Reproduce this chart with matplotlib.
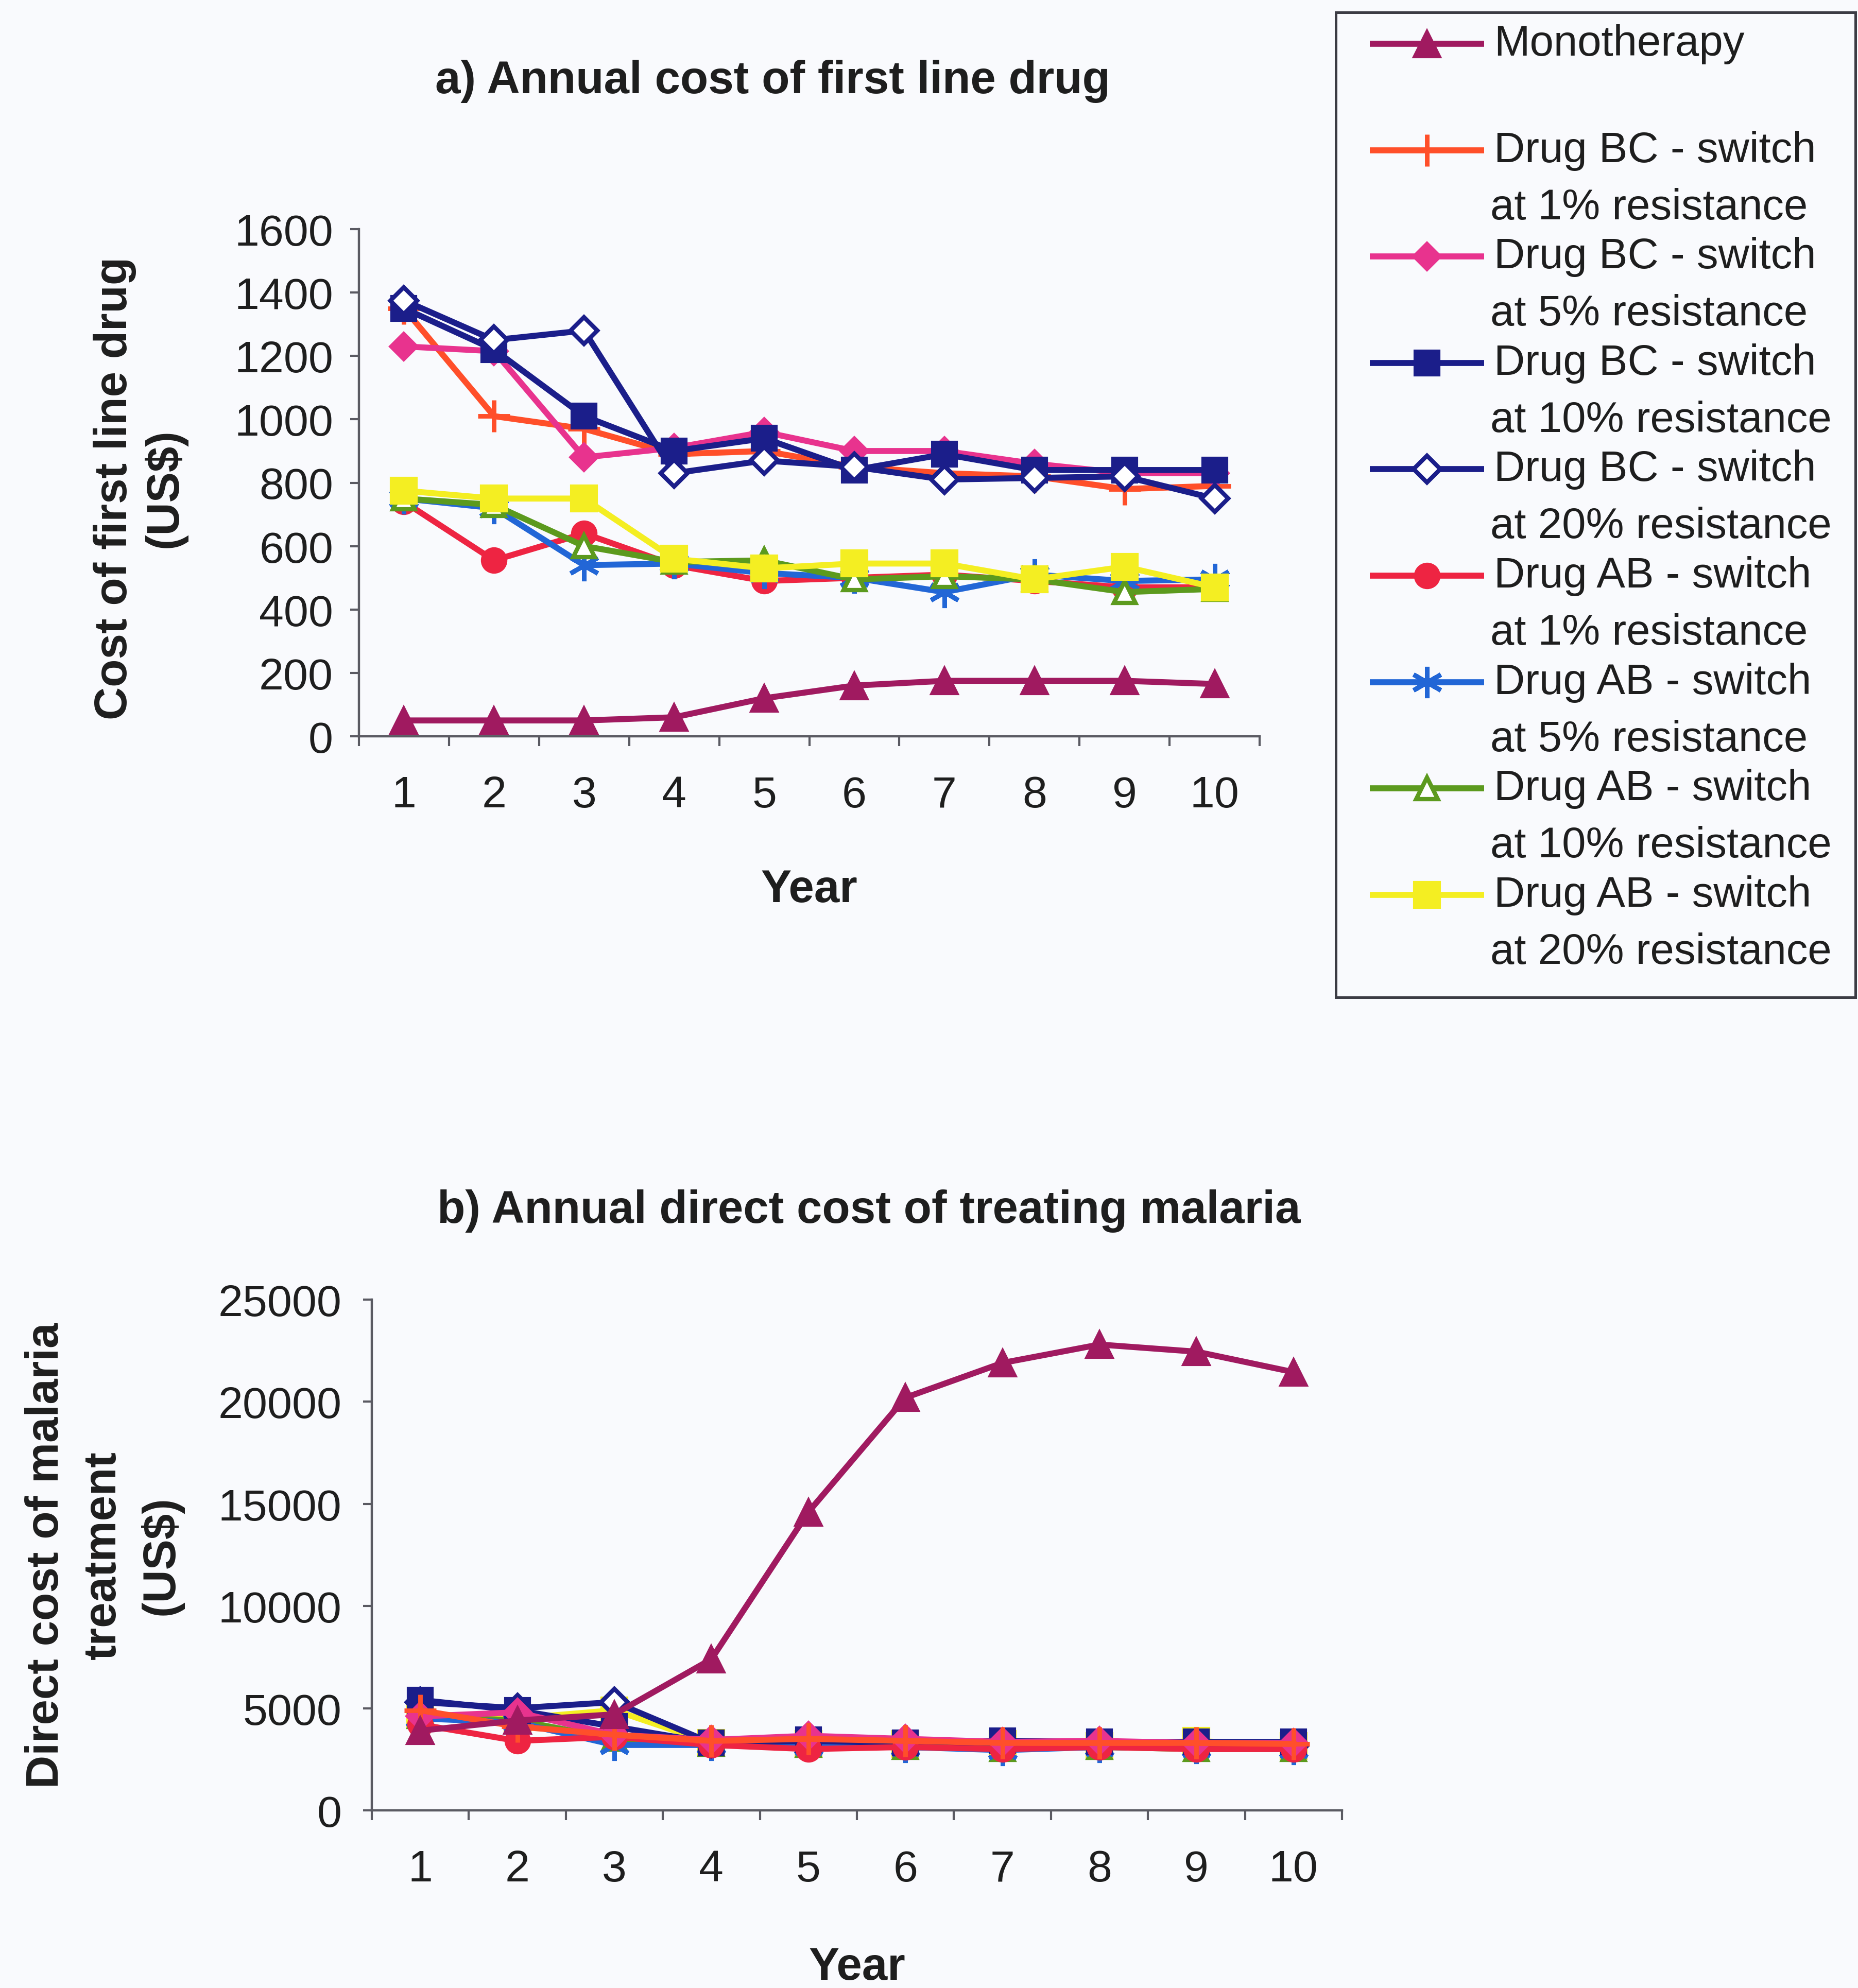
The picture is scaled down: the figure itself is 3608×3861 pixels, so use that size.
import matplotlib.pyplot as plt
import matplotlib.font_manager as fm

# ---- data ----
years = [1, 2, 3, 4, 5, 6, 7, 8, 9, 10]

labels = [
    "Monotherapy",
    "Drug BC - switch\nat 1% resistance",
    "Drug BC - switch\nat 5% resistance",
    "Drug BC - switch\nat 10% resistance",
    "Drug BC - switch\nat 20% resistance",
    "Drug AB - switch\nat 1% resistance",
    "Drug AB - switch\nat 5% resistance",
    "Drug AB - switch\nat 10% resistance",
    "Drug AB - switch\nat 20% resistance",
]

# a) annual cost of first line drug
drug_mono = [50, 50, 50, 60, 120, 160, 175, 175, 175, 165]
drug_bc1 = [1350, 1010, 970, 890, 900, 850, 830, 820, 780, 790]
drug_bc5 = [1230, 1215, 880, 910, 960, 900, 900, 860, 830, 830]
drug_bc10 = [1350, 1220, 1010, 900, 940, 840, 890, 840, 840, 840]
drug_bc20 = [1375, 1250, 1280, 830, 870, 850, 810, 815, 820, 750]
drug_ab1 = [740, 555, 640, 540, 490, 500, 510, 490, 470, 470]
drug_ab5 = [750, 720, 540, 545, 515, 500, 455, 510, 490, 495]
drug_ab10 = [750, 730, 600, 550, 555, 495, 505, 495, 455, 465]
drug_ab20 = [775, 750, 750, 560, 530, 545, 545, 495, 535, 470]

# b) annual direct cost of treating malaria
treat_mono = [3900, 4400, 4700, 7400, 14600, 20200, 21900, 22800, 22450, 21450]
treat_bc1 = [4900, 4100, 3700, 3400, 3500, 3400, 3300, 3300, 3300, 3250]
treat_bc5 = [4600, 4800, 3700, 3450, 3650, 3500, 3350, 3400, 3300, 3300]
treat_bc10 = [5400, 4900, 4100, 3300, 3450, 3300, 3400, 3350, 3350, 3350]
treat_bc20 = [5300, 5000, 5300, 3300, 3400, 3300, 3200, 3250, 3200, 3150]
treat_ab1 = [4200, 3400, 3600, 3200, 3000, 3100, 3000, 3100, 3000, 3000]
treat_ab5 = [4500, 4300, 3200, 3200, 3150, 3100, 2950, 3100, 3050, 3000]
treat_ab10 = [4600, 4400, 3500, 3250, 3200, 3100, 3000, 3100, 3000, 3000]
treat_ab20 = [4700, 4500, 4900, 3300, 3250, 3250, 3250, 3150, 3400, 3150]

drug_series = [drug_mono, drug_bc1, drug_bc5, drug_bc10, drug_bc20,
               drug_ab1, drug_ab5, drug_ab10, drug_ab20]
treat_series = [treat_mono, treat_bc1, treat_bc5, treat_bc10, treat_bc20,
                treat_ab1, treat_ab5, treat_ab10, treat_ab20]

# ---- styles ----
styles = [
    dict(color="#A01A60", marker="^", ms=19, mfc="#A01A60", mew=1.5),
    dict(color="#FF4F2A", marker="+", ms=22, mfc="#FF4F2A", mew=3.2),
    dict(color="#E8338E", marker="D", ms=14, mfc="#E8338E", mew=1.5),
    dict(color="#1B1E8A", marker="s", ms=17, mfc="#1B1E8A", mew=1.5),
    dict(color="#1B1E8A", marker="D", ms=13, mfc="white", mew=3),
    dict(color="#EE2442", marker="o", ms=17, mfc="#EE2442", mew=1.5),
    dict(color="#2266D6", marker=(6, 2, 0), ms=22, mfc="#2266D6", mew=3.2),
    dict(color="#5C9A1E", marker="^", ms=15, mfc="white", mew=3),
    dict(color="#F4EE22", marker="s", ms=18, mfc="#F4EE22", mew=1.5),
]
LW = 4.2

available = {f.name for f in fm.fontManager.ttflist}
base_font = "Liberation Sans" if "Liberation Sans" in available else "DejaVu Sans"
narrow_font = "Liberation Sans Narrow" if "Liberation Sans Narrow" in available else base_font
plt.rcParams["font.family"] = [base_font, "DejaVu Sans"]

W, H = 3608, 3862
DPI = 200
bg = "#F9FAFD"
fig = plt.figure(figsize=(W / DPI, H / DPI), dpi=DPI, facecolor=bg)

text_color = "#1E1E1E"
axis_color = "#5A5A62"


def style_axis(ax, ymax, ystep, ypad):
    ax.set_facecolor(bg)
    for side in ["top", "right"]:
        ax.spines[side].set_visible(False)
    for side in ["left", "bottom"]:
        ax.spines[side].set_color(axis_color)
        ax.spines[side].set_linewidth(1.6)
    ax.set_xlim(0.5, 10.5)
    ax.set_ylim(0, ymax)
    ax.set_yticks(range(0, ymax + 1, ystep))
    ax.tick_params(axis="y", direction="out", length=6, width=1.5,
                   colors=axis_color, labelcolor=text_color, labelsize=31, pad=ypad)
    # category boundaries carry the tick marks, labels sit in the middle
    ax.set_xticks([y + 0.5 for y in [0] + years])
    ax.set_xticklabels([])
    ax.set_xticks(years, minor=True)
    ax.set_xticklabels([str(y) for y in years], minor=True)
    ax.tick_params(axis="x", which="major", direction="out", length=7, width=1.5,
                   colors=axis_color)
    ax.tick_params(axis="x", which="minor", length=0, labelsize=31,
                   labelcolor=text_color, pad=27)


# ---- a) ----
ax1 = fig.add_axes([697 / W, 1 - 1431 / H, (2446 - 697) / W, (1431 - 446) / H])
style_axis(ax1, 1600, 200, 12)
for vals, st in zip(drug_series, styles):
    ax1.plot(years, vals, lw=LW, clip_on=False, zorder=3, **st)
ax1.set_xlabel("Year", fontsize=32, fontweight="bold", color=text_color)
ax1.xaxis.set_label_coords(0.5, -0.26)
ax1.set_ylabel("Cost of first line drug\n(US$)", fontsize=32, fontweight="bold",
               family=[narrow_font, "DejaVu Sans"], color=text_color,
               va="center", linespacing=1.2)
ax1.yaxis.set_label_coords(-0.243, 0.49)
fig.text(0.416, 0.959, "a) Annual cost of first line drug", ha="center", va="center",
         fontsize=32, fontweight="bold", color=text_color)

# ---- b) ----
ax2 = fig.add_axes([722 / W, 1 - 3517 / H, (2606 - 722) / W, (3517 - 2525) / H])
style_axis(ax2, 25000, 5000, 15)
order = [8, 7, 6, 4, 3, 5, 2, 1, 0]
for i in order:
    ax2.plot(years, treat_series[i], lw=LW, clip_on=False, zorder=3, **styles[i])
ax2.set_xlabel("Year", fontsize=32, fontweight="bold", color=text_color)
ax2.xaxis.set_label_coords(0.5, -0.265)
ax2.set_ylabel("Direct cost of malaria\ntreatment\n(US$)", fontsize=32,
               fontweight="bold", family=[narrow_font, "DejaVu Sans"],
               color=text_color, va="center", linespacing=1.42)
ax2.yaxis.set_label_coords(-0.276, 0.50)
fig.text(0.4676, 0.391, "b) Annual direct cost of treating malaria", ha="center",
         va="center", fontsize=32, fontweight="bold", color=text_color)

# ---- legend box (drawn by hand: handle sits on the first text line) ----
lx0, lx1, ly0, ly1 = 2594, 3603, 25, 1938
lax = fig.add_axes([lx0 / W, 1 - ly1 / H, (lx1 - lx0) / W, (ly1 - ly0) / H])
lax.set_facecolor(bg)
lax.set_xlim(0, lx1 - lx0)
lax.set_ylim(ly1 - ly0, 0)
lax.set_xticks([])
lax.set_yticks([])
for sp in lax.spines.values():
    sp.set_color("#3C3C44")
    sp.set_linewidth(1.8)

row_gap = 206.6
line_gap = 111
for i, (lab, st) in enumerate(zip(labels, styles)):
    y = 61 + i * row_gap
    lax.plot([66, 288], [y, y], color=st["color"], lw=LW, solid_capstyle="butt")
    lax.plot([177], [y], linestyle="none", **st)
    for j, part in enumerate(lab.split("\n")):
        lax.text(307 if j == 0 else 300, y + j * line_gap, part, va="center",
                 ha="left", fontsize=30, color=text_color)

fig.savefig("out.png", dpi=DPI, facecolor=bg)
